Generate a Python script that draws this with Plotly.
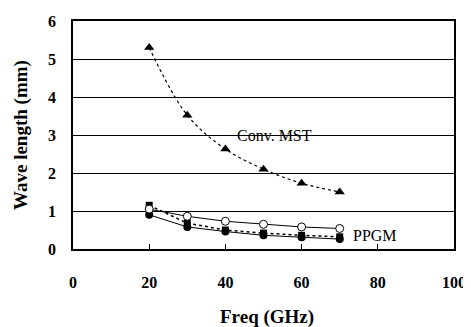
import plotly.graph_objects as go

freq = [20, 30, 40, 50, 60, 70]
conv_mst = [5.3, 3.52, 2.63, 2.1, 1.73, 1.5]
ppgm_open = [1.05, 0.86, 0.73, 0.65, 0.58, 0.54]
ppgm_square = [1.15, 0.68, 0.5, 0.42, 0.36, 0.32]
ppgm_filled = [0.9, 0.58, 0.46, 0.36, 0.31, 0.26]

x_ticks = [0, 20, 40, 60, 80, 100]
y_ticks = [0, 1, 2, 3, 4, 5, 6]

font = "Liberation Serif"

fig = go.Figure()
fig.add_trace(go.Scatter(x=freq, y=conv_mst, mode="lines+markers",
                         line=dict(color="black", width=1.2, dash="dot", shape="spline"),
                         marker=dict(symbol="triangle-up", size=9, color="black")))
fig.add_trace(go.Scatter(x=freq, y=ppgm_square, mode="lines+markers",
                         line=dict(color="black", width=1.5, dash="dot"),
                         marker=dict(symbol="square", size=7, color="black")))
fig.add_trace(go.Scatter(x=freq, y=ppgm_filled, mode="lines+markers",
                         line=dict(color="black", width=1),
                         marker=dict(symbol="circle", size=8, color="black")))
fig.add_trace(go.Scatter(x=freq, y=ppgm_open, mode="lines+markers",
                         line=dict(color="black", width=1),
                         marker=dict(symbol="circle", size=8, color="white",
                                     line=dict(color="black", width=1))))

fig.add_annotation(x=42.4, y=2.98, text="Conv. MST", showarrow=False, xanchor="left",
                   font=dict(family=font, size=16, color="black"))
fig.add_annotation(x=72.9, y=0.36, text="PPGM", showarrow=False, xanchor="left",
                   font=dict(family=font, size=16, color="black"))

# axis titles
fig.add_annotation(xref="paper", yref="paper", x=0.51, y=0, xanchor="center", yanchor="top",
                   yshift=-56, text="<b>Freq (GHz)</b>", showarrow=False, borderpad=0,
                   font=dict(family=font, size=19, color="black"))
fig.add_annotation(xref="paper", yref="paper", x=0, y=0.5, xanchor="center", yanchor="middle",
                   xshift=-52, textangle=-90, text="<b>Wave length (mm)</b>", showarrow=False,
                   borderpad=0, font=dict(family=font, size=19, color="black"))

fig.update_layout(
    width=463, height=319,
    margin=dict(l=65, r=14, t=5, b=78),
    paper_bgcolor="white", plot_bgcolor="white",
    showlegend=False,
    font=dict(family=font, color="black"),
)
fig.update_xaxes(range=[0, 100], tickvals=x_ticks, showgrid=False, zeroline=False,
                 showline=True, mirror=True, linecolor="black", linewidth=1.5,
                 ticks="inside", ticklen=5, tickcolor="black", ticklabelstandoff=18,
                 ticklabeloverflow="allow",
                 tickfont=dict(family=font, size=16, color="black", weight="bold"))
fig.update_yaxes(range=[0, 6], tickvals=y_ticks, showgrid=True, gridcolor="black", gridwidth=1,
                 zeroline=False, showline=True, mirror=True, linecolor="black", linewidth=1.5,
                 ticks="", ticklabelstandoff=12, ticklabeloverflow="allow",
                 tickfont=dict(family=font, size=16, color="black", weight="bold"))

fig.write_html("out.html")
